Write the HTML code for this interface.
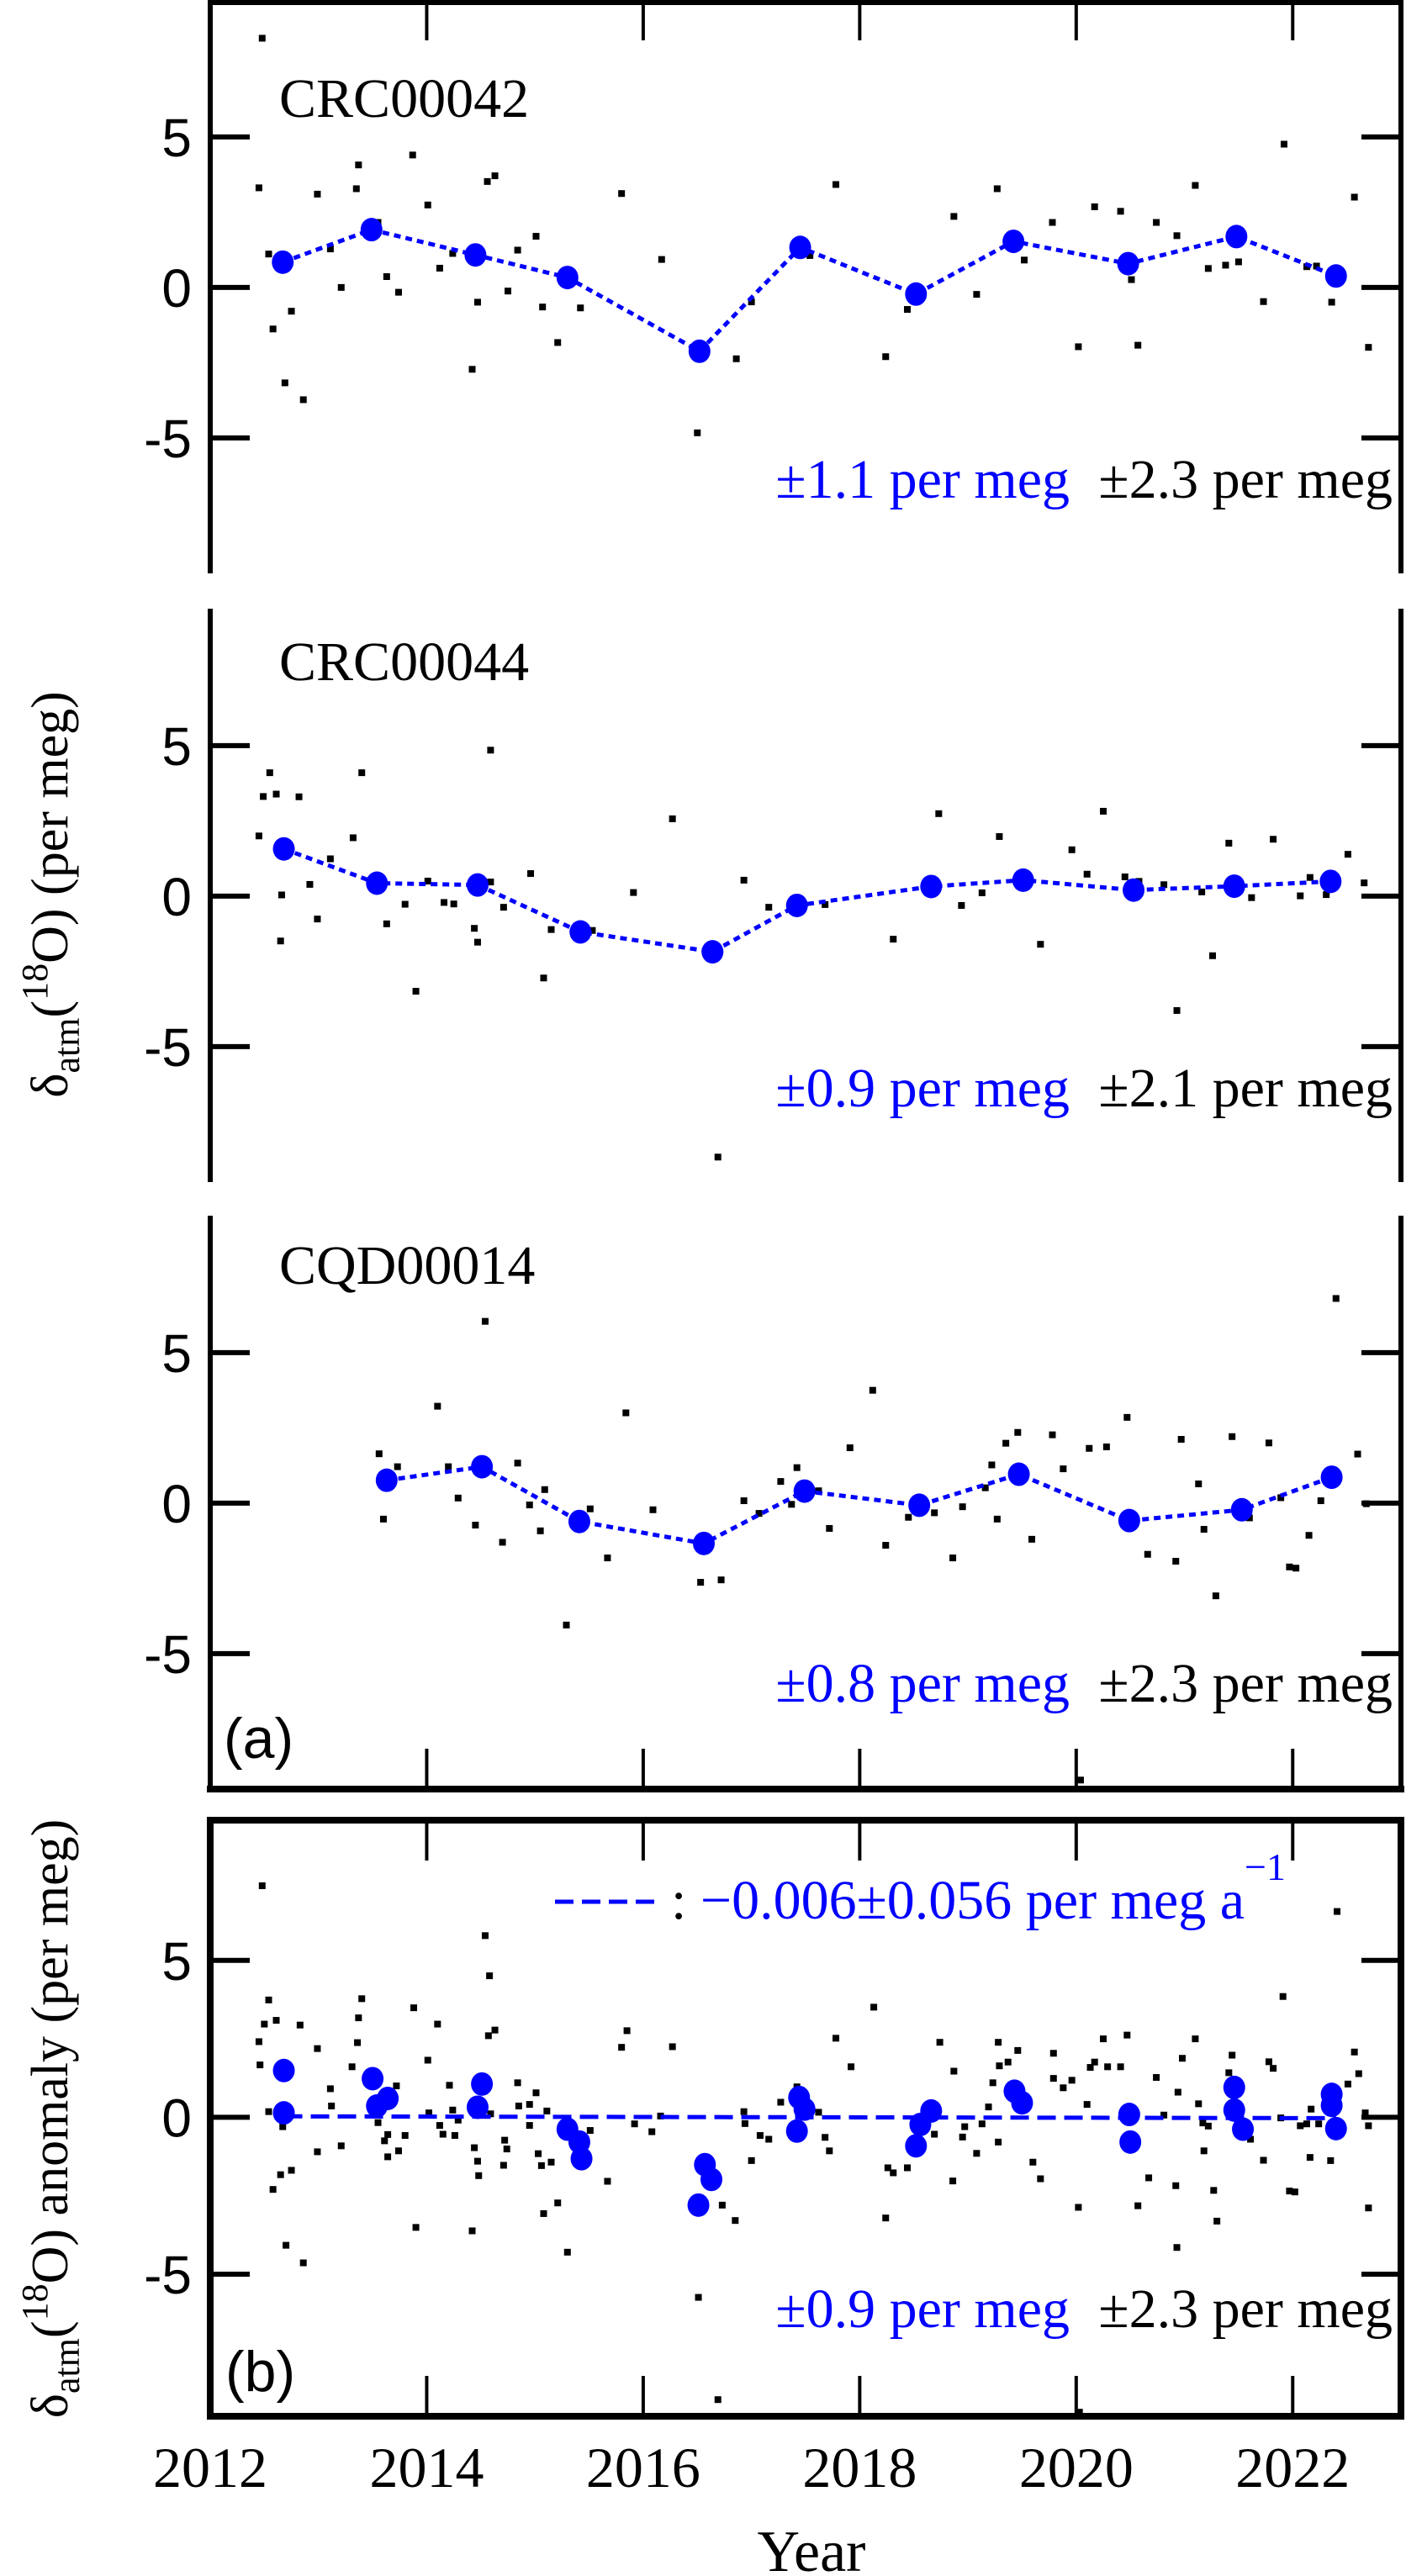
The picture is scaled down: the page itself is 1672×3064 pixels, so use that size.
<!DOCTYPE html>
<html><head><meta charset="utf-8"><title>δatm(18O) time series</title>
<style>
html,body{margin:0;padding:0;background:#fff;}
svg{display:block;}
</style></head>
<body>
<svg id="chart" xmlns="http://www.w3.org/2000/svg" width="1672" height="3064" viewBox="0 0 1672 3064">
<g id="layer"></g>
<g font-family="Liberation Serif, serif" font-size="66">
  <text x="965" y="3058" text-anchor="middle" font-size="70">Year</text>
  <text x="332" y="139">CRC00042</text>
  <text x="332" y="809">CRC00044</text>
  <text x="332" y="1527">CQD00014</text>
  <text x="1272" y="592" text-anchor="end" fill="#0000ff">±1.1 per meg</text>
  <text x="1656" y="592" text-anchor="end" fill="#000">±2.3 per meg</text>
  <text x="1272" y="1316" text-anchor="end" fill="#0000ff">±0.9 per meg</text>
  <text x="1656" y="1316" text-anchor="end" fill="#000">±2.1 per meg</text>
  <text x="1272" y="2024" text-anchor="end" fill="#0000ff">±0.8 per meg</text>
  <text x="1656" y="2024" text-anchor="end" fill="#000">±2.3 per meg</text>
  <text x="1272" y="2768" text-anchor="end" fill="#0000ff">±0.9 per meg</text>
  <text x="1656" y="2768" text-anchor="end" fill="#000">±2.3 per meg</text>
  <line x1="660" y1="2262" x2="778" y2="2262" stroke="#0000ff" stroke-width="5" stroke-dasharray="22 10"/>
  <text x="798" y="2282" fill="#0000ff"><tspan fill="#000">:</tspan> −0.006±0.056 per meg a<tspan dy="-46" font-size="46">−1</tspan></text>
  <text x="266" y="2091" font-family="Liberation Sans, sans-serif" font-size="68">(a)</text>
  <text x="268" y="2844" font-family="Liberation Sans, sans-serif" font-size="68">(b)</text>
  <text transform="translate(80,1064) rotate(-90)" text-anchor="middle" font-size="62">δ<tspan dy="14" font-size="44">atm</tspan><tspan dy="-14">(</tspan><tspan dy="-24" font-size="44">18</tspan><tspan dy="24">O)  (per meg)</tspan></text>
  <text transform="translate(80,2520) rotate(-90)" text-anchor="middle" font-size="62">δ<tspan dy="14" font-size="44">atm</tspan><tspan dy="-14">(</tspan><tspan dy="-24" font-size="44">18</tspan><tspan dy="24">O) anomaly  (per meg)</tspan></text>
</g>
</svg>
<script>
// ---------- data ----------
const xTickYears = [2012, 2014, 2016, 2018, 2020, 2022];
const yTickValues = [5, 0, -5];
const yTickLabels = ["5", "0", "-5"];

const p1MeanYears = [2012.67, 2013.49, 2014.45, 2015.30, 2016.52, 2017.45, 2018.52, 2019.42, 2020.48, 2021.48, 2022.40];
const p1MeanValues = [0.84, 1.92, 1.08, 0.33, -2.12, 1.33, -0.22, 1.53, 0.79, 1.69, 0.38];
const p1RawYears = [2012.48,2012.45,2012.54,2012.58,2012.75,2012.69,2012.86,2012.99,2013.11,2013.21,2013.37,2013.35,2013.55,2013.63,2013.74,2013.87,2014.01,2014.12,2014.24,2014.42,2014.47,2014.56,2014.63,2014.75,2014.84,2015.01,2015.07,2015.21,2015.42,2015.80,2016.17,2016.50,2016.86,2017.00,2017.54,2017.78,2018.24,2018.44,2018.87,2019.08,2019.27,2019.52,2019.78,2020.02,2020.17,2020.41,2020.51,2020.57,2020.74,2020.93,2021.10,2021.22,2021.38,2021.50,2021.73,2021.92,2022.13,2022.22,2022.36,2022.57,2022.70];
const p1RawValues = [8.28,3.31,1.11,-1.38,-0.79,-3.17,-3.73,3.10,1.28,0.0,4.07,3.28,2.16,0.36,-0.16,4.40,2.74,0.64,1.13,-2.72,-0.49,3.52,3.71,-0.12,1.24,1.70,-0.65,-1.83,-0.68,3.12,0.93,-4.83,-2.37,-0.48,1.06,3.42,-2.30,-0.73,2.36,-0.23,3.28,0.91,2.16,-1.97,2.68,2.53,0.26,-1.92,2.16,1.72,3.39,0.63,0.74,0.85,-0.47,4.76,0.69,0.71,-0.49,3.00,-1.99];

const p2MeanYears = [2012.68, 2013.54, 2014.47, 2015.42, 2016.64, 2017.42, 2018.66, 2019.51, 2020.53, 2021.46, 2022.35];
const p2MeanValues = [1.57, 0.43, 0.37, -1.19, -1.85, -0.31, 0.32, 0.53, 0.20, 0.33, 0.49];
const p2RawYears = [2012.55,2012.49,2012.61,2012.82,2012.45,2012.66,2012.65,2012.92,2012.99,2013.11,2013.32,2013.40,2013.63,2013.80,2013.90,2014.01,2014.16,2014.25,2014.44,2014.47,2014.59,2014.59,2014.71,2014.96,2015.08,2015.15,2015.53,2015.91,2016.27,2016.69,2016.93,2017.16,2017.68,2018.31,2018.73,2018.94,2019.13,2019.29,2019.67,2019.96,2020.10,2020.25,2020.45,2020.58,2020.81,2020.93,2021.16,2021.26,2021.41,2021.62,2021.82,2022.07,2022.16,2022.31,2022.51,2022.66];
const p2RawValues = [4.10,3.31,3.39,3.30,2.00,0.04,-1.49,0.39,-0.76,1.24,1.94,4.10,-0.92,-0.27,-3.16,0.50,-0.21,-0.26,-1.07,-1.53,4.85,0.47,-0.37,0.75,-2.72,-1.11,-1.14,0.12,2.57,-8.67,0.53,-0.37,-0.28,-1.43,2.74,-0.31,0.11,1.98,-1.60,1.54,0.73,2.82,0.64,0.49,0.38,-3.80,0.14,-1.98,1.76,-0.05,1.89,0.01,0.62,0.05,1.39,0.44];

const p3MeanYears = [2013.63, 2014.51, 2015.41, 2016.56, 2017.49, 2018.55, 2019.47, 2020.49, 2021.53, 2022.36];
const p3MeanValues = [0.76, 1.21, -0.61, -1.34, 0.40, -0.07, 0.96, -0.58, -0.22, 0.86];
const p3RawYears = [2013.56,2013.73,2013.60,2014.10,2014.20,2014.29,2014.45,2014.54,2014.70,2014.84,2014.95,2015.05,2015.09,2015.29,2015.51,2015.67,2015.84,2016.09,2016.53,2016.72,2016.93,2017.07,2017.27,2017.37,2017.42,2017.62,2017.72,2017.91,2018.12,2018.24,2018.45,2018.69,2018.86,2018.95,2019.16,2019.22,2019.27,2019.35,2019.46,2019.59,2019.78,2019.88,2020.12,2020.28,2020.47,2020.66,2020.92,2020.97,2021.13,2021.18,2021.29,2021.44,2021.60,2021.78,2021.89,2021.97,2022.03,2022.15,2022.26,2022.40,2022.60,2022.68,2020.04];
const p3RawValues = [1.64,1.21,-0.53,3.22,1.21,0.17,-0.73,6.04,-1.30,1.33,-0.06,-0.92,0.45,-4.05,-0.19,-1.82,3.0,-0.22,-2.63,-2.55,0.08,-0.34,0.72,-0.04,1.18,0.41,-0.84,1.84,3.75,-1.40,-0.47,-0.32,-1.82,-0.12,0.51,1.27,-0.53,1.99,2.35,-1.20,2.27,1.14,1.82,1.87,2.85,-1.70,-1.93,2.12,0.64,-0.87,-3.08,2.21,-0.49,2.0,0.18,-2.12,-2.16,-1.07,0.08,6.80,1.63,-0.02,-9.2];

const pbMeanYears = [2012.68,2012.68,2013.50,2013.54,2013.64,2014.47,2014.51,2015.30,2015.41,2015.43,2016.51,2016.57,2016.63,2017.42,2017.44,2017.49,2018.52,2018.56,2018.66,2019.43,2019.50,2020.49,2020.50,2021.46,2021.46,2021.54,2022.36,2022.36,2022.40];
const pbMeanValues = [1.49,0.14,1.23,0.36,0.60,0.32,1.06,-0.38,-0.79,-1.32,-2.80,-1.51,-1.98,-0.44,0.63,0.26,-0.91,-0.23,0.20,0.83,0.46,0.09,-0.79,0.95,0.23,-0.38,0.73,0.38,-0.36];
const pbRawYears = [2012.48,2012.45,2012.46,2012.50,2012.54,2012.54,2012.61,2012.58,2012.65,2012.67,2012.70,2012.75,2012.83,2012.86,2012.99,2012.99,2013.11,2013.12,2013.21,2013.31,2013.36,2013.37,2013.40,2013.55,2013.61,2013.64,2013.64,2013.72,2013.74,2013.80,2013.88,2013.90,2014.01,2014.02,2014.10,2014.12,2014.15,2014.21,2014.24,2014.26,2014.29,2014.42,2014.44,2014.47,2014.48,2014.54,2014.57,2014.58,2014.63,2014.59,2014.71,2014.72,2014.74,2014.84,2014.85,2014.95,2014.95,2015.01,2015.03,2015.06,2015.08,2015.11,2015.15,2015.21,2015.30,2015.51,2015.67,2015.80,2015.85,2015.92,2016.08,2016.16,2016.27,2016.51,2016.69,2016.73,2016.85,2016.93,2016.94,2017.00,2017.08,2017.16,2017.27,2017.42,2017.62,2017.68,2017.72,2017.78,2017.92,2018.13,2018.24,2018.26,2018.31,2018.44,2018.69,2018.74,2018.87,2018.86,2018.95,2018.97,2019.08,2019.13,2019.19,2019.23,2019.28,2019.29,2019.28,2019.37,2019.46,2019.60,2019.67,2019.79,2019.79,2019.88,2019.96,2020.02,2020.10,2020.13,2020.17,2020.25,2020.29,2020.41,2020.47,2020.57,2020.67,2020.74,2020.81,2020.92,2020.94,2020.93,2020.98,2021.10,2021.13,2021.18,2021.17,2021.22,2021.27,2021.30,2021.41,2021.44,2021.61,2021.73,2021.78,2021.82,2021.91,2021.89,2021.97,2022.02,2022.07,2022.13,2022.16,2022.17,2022.24,2022.35,2022.41,2022.51,2022.57,2022.61,2022.67,2022.70,2022.70,2020.03];
const pbRawValues = [7.38,2.41,1.67,2.97,3.74,0.18,3.09,-2.30,-1.83,-0.30,-4.08,-1.69,2.94,-4.64,2.19,-1.10,0.91,0.36,-0.91,1.61,2.38,3.17,3.78,-0.17,-0.75,-1.26,-0.55,1.00,-1.07,-0.58,3.49,-3.51,1.82,0.14,2.97,-0.26,-0.54,1.02,0.23,-0.58,-0.09,-3.62,-0.97,-1.40,-1.86,5.79,2.60,4.51,2.78,0.11,-1.53,-0.73,-1.01,1.10,0.36,-0.26,0.41,0.78,-1.16,-1.54,-3.07,0.20,-1.43,-2.73,-4.30,-0.42,-2.04,2.23,2.76,-0.21,-0.46,0.04,2.25,-5.74,-9.0,-2.80,-3.29,0.18,-0.20,-1.38,-0.58,-0.70,0.48,0.97,0.16,-0.64,-1.07,2.52,1.61,3.51,-3.21,-1.61,-1.77,-1.61,-0.54,2.39,1.47,-2.03,-0.63,-0.30,-1.15,-0.21,0.33,1.10,2.39,1.64,-0.79,1.76,2.13,-1.43,-1.96,2.04,1.24,0.94,1.18,-2.87,0.41,1.59,1.76,2.50,1.61,1.61,2.62,-2.82,-1.93,1.27,0.07,-2.18,0.80,-4.15,1.88,2.50,0.43,-1.07,-0.18,-0.28,-2.33,-3.31,1.42,1.98,-0.70,-1.37,1.77,1.56,3.85,-0.02,-2.35,-2.38,-0.27,-0.21,-1.28,0.26,-0.21,-1.38,6.56,1.06,2.08,1.39,0.14,-0.27,-2.89,-9.4];

const trendStartYear = 2012.68;
const trendEndYear = 2022.40;
const trendIntercept = 0.03;
const trendSlope = -0.006;

// ---------- layout ----------
const NS = "http://www.w3.org/2000/svg";
const layer = document.getElementById("layer");
const X0 = 250, X1 = 1666, T0 = 2012, T1 = 2023;
function xScale(t){ return X0 + (t - T0) / (T1 - T0) * (X1 - X0); }
function makeY(top, bottom, vmin, vmax){ return v => top + (vmax - v) / (vmax - vmin) * (bottom - top); }

function el(tag, attrs, parent){
  const e = document.createElementNS(NS, tag);
  for (const k in attrs) e.setAttribute(k, attrs[k]);
  (parent || layer).appendChild(e);
  return e;
}

const panels = [
  {id:"panel-crc00042", top:0, bottom:682, vmin:-9.5, vmax:9.55, my:p1MeanYears, mv:p1MeanValues, ry:p1RawYears, rv:p1RawValues, line:true},
  {id:"panel-crc00044", top:724, bottom:1406, vmin:-9.5, vmax:9.55, my:p2MeanYears, mv:p2MeanValues, ry:p2RawYears, rv:p2RawValues, line:true},
  {id:"panel-cqd00014", top:1446, bottom:2128, vmin:-9.5, vmax:9.55, my:p3MeanYears, mv:p3MeanValues, ry:p3RawYears, rv:p3RawValues, line:true},
  {id:"panel-b-anomaly", top:2165, bottom:2874, vmin:-9.53, vmax:9.47, my:pbMeanYears, mv:pbMeanValues, ry:pbRawYears, rv:pbRawValues, line:false}
];

panels.forEach((p, idx) => {
  const g = el("g", {});
  
  
  const y = makeY(p.top, p.bottom, p.vmin, p.vmax);
  p.ry.forEach((t, i) => {
    const r = el("rect", {x: xScale(t) - 4, y: y(p.rv[i]) - 4, width: 8, height: 8, fill: "#000"}, g);
    
    
  });
  if (p.line) {
    const pts = p.my.map((t, i) => xScale(t).toFixed(1) + "," + y(p.mv[i]).toFixed(1)).join(" ");
    const pl = el("polyline", {points: pts, fill: "none", stroke: "#0000ff", "stroke-width": 5, "stroke-dasharray": "8 6"}, g);
    
    
  } else {
    const ln = el("line", {x1: xScale(trendStartYear), y1: y(trendIntercept), x2: xScale(trendEndYear),
      y2: y(trendIntercept + trendSlope * (trendEndYear - trendStartYear)), stroke: "#0000ff", "stroke-width": 5, "stroke-dasharray": "22 10"}, g);
    
    
  }
  p.my.forEach((t, i) => {
    const c = el("ellipse", {cx: xScale(t), cy: y(p.mv[i]), rx: 13, ry: 14, fill: "#0000ff"}, g);
    
    
  });
  const isB = idx === 3;
  const sw = isB ? 8 : 6;
  const la = el("line", {x1: X0, y1: p.top, x2: X0, y2: p.bottom, stroke: "#000", "stroke-width": sw}, g);
  
  
  const ra = el("line", {x1: X1, y1: p.top, x2: X1, y2: p.bottom, stroke: "#000", "stroke-width": sw}, g);
  
  
  if (idx === 0 || isB) {
    const ta = el("line", {x1: X0 - sw/2, y1: p.top + (isB ? 0 : 3), x2: X1 + sw/2, y2: p.top + (isB ? 0 : 3), stroke: "#000", "stroke-width": sw}, g);
    
    
    xTickYears.slice(1).forEach(t => {
      const tk = el("line", {x1: xScale(t), y1: p.top, x2: xScale(t), y2: p.top + 48, stroke: "#000", "stroke-width": 4}, g);
      
      
    });
  }
  if (idx === 2 || isB) {
    const ba = el("line", {x1: X0 - 4, y1: p.bottom, x2: X1 + 4, y2: p.bottom, stroke: "#000", "stroke-width": 8}, g);
    
    
    xTickYears.slice(1).forEach(t => {
      const tk = el("line", {x1: xScale(t), y1: p.bottom, x2: xScale(t), y2: p.bottom - 48, stroke: "#000", "stroke-width": 4}, g);
      
      
    });
  }
  yTickValues.forEach((v, i) => {
    const tl = el("line", {x1: X0, y1: y(v), x2: X0 + 47, y2: y(v), stroke: "#000", "stroke-width": 6}, g);
    
    
    const tr = el("line", {x1: X1, y1: y(v), x2: X1 - 47, y2: y(v), stroke: "#000", "stroke-width": 6}, g);
    
    
    const lb = el("text", {x: 228, y: y(v) + 23, "text-anchor": "end", "font-family": "Liberation Sans, sans-serif", "font-size": 64, fill: "#000"}, g);
    lb.textContent = yTickLabels[i];
    
    
  });
});

xTickYears.forEach(t => {
  const lb = el("text", {x: xScale(t), y: 2958, "text-anchor": "middle", "font-family": "Liberation Serif, serif", "font-size": 68, fill: "#000"});
  lb.textContent = String(t);
  
  
});
</script>
</body></html>
